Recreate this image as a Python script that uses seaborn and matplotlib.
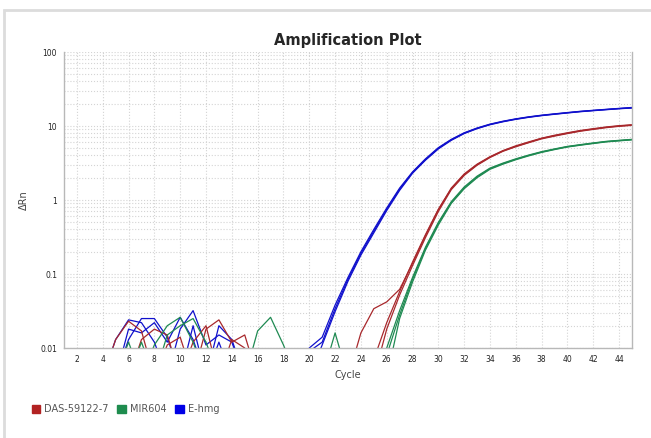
import numpy as np
import pandas as pd
import seaborn as sns
from matplotlib import pyplot as plt
from matplotlib.patches import Rectangle, Patch

L = 0.004  # below the 0.01 floor -> clipped at the bottom of the axes

cycles = list(range(1, 46))
targets = ["DAS-59122-7", "MIR604", "E-hmg"]
colors = {"DAS-59122-7": "#a8282c", "MIR604": "#1f8a52", "E-hmg": "#1010cc"}
legend_colors = ["#b22222", "#1e8c4e", "#0000e6"]

# E-hmg wells
b1 = [L, L, L, L, 0.013, 0.024, 0.022, 0.012, L, 0.018,
      0.032, 0.011, 0.015, 0.012, L, L, L, L, L, 0.009,
      0.012, 0.034, 0.085, 0.19, 0.38, 0.75, 1.4, 2.35, 3.5, 5.0,
      6.5, 8.0, 9.3, 10.5, 11.5, 12.4, 13.2, 13.9, 14.5, 15.1,
      15.7, 16.2, 16.7, 17.2, 17.6]
b2 = [L, L, L, L, L, 0.018, 0.016, 0.022, 0.012, 0.026,
      0.013, L, 0.02, 0.013, L, L, L, L, L, L,
      0.011, 0.031, 0.08, 0.18, 0.36, 0.72, 1.35, 2.3, 3.45, 4.9,
      6.4, 7.9, 9.2, 10.4, 11.4, 12.3, 13.1, 13.8, 14.4, 15.0,
      15.6, 16.1, 16.6, 17.1, 17.5]
b3 = [L, L, L, L, L, 0.013, 0.025, 0.025, 0.014, L,
      0.02, L, 0.012, L, L, L, L, L, L, 0.01,
      0.014, 0.038, 0.09, 0.2, 0.4, 0.78, 1.45, 2.4, 3.6, 5.1,
      6.6, 8.1, 9.4, 10.6, 11.6, 12.5, 13.3, 14.0, 14.6, 15.2,
      15.8, 16.3, 16.8, 17.3, 17.8]

# DAS-59122-7 wells
r1 = [L, L, L, L, 0.013, 0.023, 0.017, L, 0.011, 0.014,
      L, 0.018, 0.024, 0.012, 0.015, L, L, 0.009, L, L,
      L, L, L, 0.016, 0.034, 0.042, 0.062, 0.14, 0.33, 0.74,
      1.45, 2.25, 3.05, 3.85, 4.65, 5.4, 6.1, 6.85, 7.5, 8.1,
      8.7, 9.2, 9.7, 10.1, 10.4]
r2 = [L, L, L, L, L, L, 0.013, 0.018, 0.015, L,
      0.012, 0.02, L, 0.013, 0.01, L, L, L, L, L,
      L, L, L, L, 0.007, 0.022, 0.058, 0.145, 0.34, 0.75,
      1.42, 2.2, 3.0, 3.8, 4.6, 5.3, 6.0, 6.8, 7.4, 8.0,
      8.6, 9.1, 9.6, 10.0, 10.3]
r3 = [L, L, L, L, L, L, L, L, L, L,
      L, L, L, L, L, L, L, L, L, L,
      L, L, L, L, L, 0.018, 0.052, 0.13, 0.31, 0.7,
      1.38, 2.15, 2.95, 3.75, 4.55, 5.25, 5.95, 6.7, 7.3, 7.9,
      8.5, 9.0, 9.5, 9.9, 10.2]

# MIR604 wells
g1 = [L, L, L, L, L, 0.012, L, 0.011, 0.02, 0.026,
      0.012, L, L, L, L, 0.017, 0.026, 0.011, L, L,
      L, 0.016, L, L, L, 0.01, 0.032, 0.09, 0.23, 0.5,
      0.95, 1.5, 2.1, 2.7, 3.15, 3.6, 4.05, 4.5, 4.9, 5.3,
      5.6, 5.9, 6.2, 6.4, 6.6]
g2 = [L, L, L, L, L, L, 0.012, L, 0.015, 0.02,
      0.025, 0.012, L, L, L, L, L, L, L, L,
      L, L, L, L, L, 0.008, 0.028, 0.085, 0.22, 0.48,
      0.92, 1.45, 2.05, 2.65, 3.1, 3.55, 4.0, 4.45, 4.85, 5.25,
      5.55, 5.85, 6.15, 6.35, 6.55]
g3 = [L, L, L, L, L, L, L, L, L, L,
      L, L, L, L, L, L, L, L, L, L,
      L, L, L, L, L, L, 0.025, 0.078, 0.21, 0.46,
      0.9, 1.42, 2.0, 2.6, 3.05, 3.5, 3.95, 4.4, 4.8, 5.2,
      5.5, 5.8, 6.1, 6.3, 6.5]

wells = {
    ("E-hmg", "B1"): b1, ("E-hmg", "B2"): b2, ("E-hmg", "B3"): b3,
    ("DAS-59122-7", "R1"): r1, ("DAS-59122-7", "R2"): r2, ("DAS-59122-7", "R3"): r3,
    ("MIR604", "G1"): g1, ("MIR604", "G2"): g2, ("MIR604", "G3"): g3,
}

rows = []
for (target, well), vals in wells.items():
    for c, v in zip(cycles, vals):
        rows.append({"Target": target, "Well": well, "Cycle": c, "dRn": v})
df = pd.DataFrame(rows)

sns.set_style("white")
plt.rcParams['font.family'] = ['DejaVu Sans']

fig = plt.figure(figsize=(6.51, 4.38), dpi=100)
ax = fig.add_axes([64 / 651, 1 - 348 / 438, (632 - 64) / 651, (348 - 52) / 438])

sns.lineplot(data=df, x="Cycle", y="dRn", hue="Target", units="Well",
             estimator=None, palette=colors, lw=0.9, legend=False, ax=ax,
             sort=True)

ax.set_yscale("log")
ax.set_ylim(0.01, 100)
ax.set_xlim(1, 45)
ax.set_yticks([0.01, 0.1, 1, 10, 100])
ax.set_yticklabels(["0.01", "0.1", "1", "10", "100"])
ax.set_xticks(range(2, 45, 2))
ax.tick_params(axis="both", which="major", labelsize=5.5, length=3,
               color="#b0b0b0", labelcolor="#222222", pad=2)
ax.tick_params(axis="y", which="minor", length=0)
ax.grid(which="major", axis="x", linestyle=":", color="#d4d4d4", lw=0.8)
ax.grid(which="both", axis="y", linestyle=":", color="#d4d4d4", lw=0.8)

for side in ["left", "right", "bottom"]:
    ax.spines[side].set_color("#b8b8b8")
    ax.spines[side].set_linewidth(1.0)
ax.spines["top"].set_visible(False)

ax.set_title("Amplification Plot", fontsize=10.5, fontweight="bold", pad=5)
ax.set_xlabel("Cycle", fontsize=7, color="#444444", labelpad=4)
ax.set_ylabel("ΔRn", fontsize=7, color="#444444", labelpad=8)

handles = [Patch(facecolor=c, edgecolor=c) for c in legend_colors]
fig.legend(handles, targets, loc="lower left", bbox_to_anchor=(0.035, 0.035),
           ncol=3, frameon=False, fontsize=7, handlelength=0.9, handleheight=0.9,
           handletextpad=0.4, columnspacing=0.9, labelcolor="#555555")

fig.patches.append(Rectangle((4 / 651, -0.02), 1.0, 1 - 10 / 438 + 0.02,
                             transform=fig.transFigure, fill=False,
                             edgecolor="#dcdcdc", lw=2))

fig.savefig("out.png", dpi=100)
